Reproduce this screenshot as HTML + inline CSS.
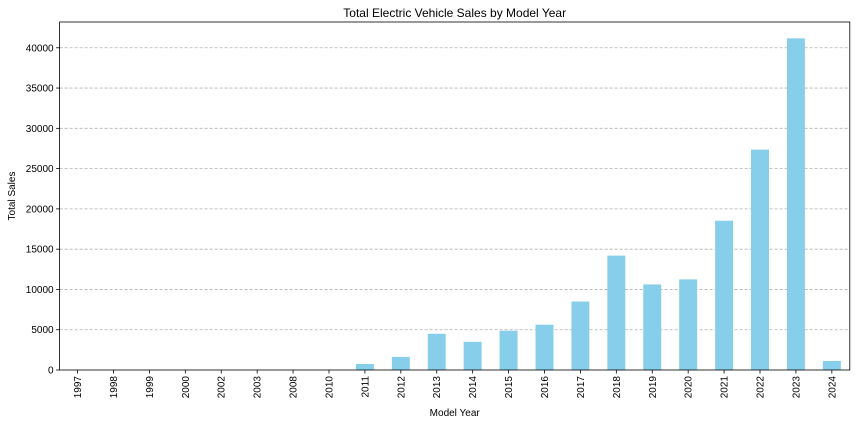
<!DOCTYPE html>
<html><head><meta charset="utf-8"><style>
body{margin:0;background:#fff;font-family:"Liberation Sans",sans-serif;}
</style></head><body>
<svg id="chart" width="856" height="424" xmlns="http://www.w3.org/2000/svg" font-family="Liberation Sans, sans-serif"></svg>
<script>
const categories=["1997","1998","1999","2000","2002","2003","2008","2010","2011","2012","2013","2014","2015","2016","2017","2018","2019","2020","2021","2022","2023","2024"];
const salesValues=[1,1,2,5,2,1,10,3,750,1625,4500,3500,4875,5625,8500,14200,10625,11250,18530,27360,41170,1125];
const yTicks=[0,5000,10000,15000,20000,25000,30000,35000,40000];
const NS="http://www.w3.org/2000/svg";
const svg=document.getElementById('chart');
const L=59.6,R=849.8,T=22,B=370,yMax=43200;
const band=(R-L)/categories.length;
const xc=i=>L+band*(i+0.5);
const y=v=>B-(v/yMax)*(B-T);
function mk(tag,attrs,parent){const e=document.createElementNS(NS,tag);for(const k in attrs)e.setAttribute(k,attrs[k]);(parent||svg).appendChild(e);return e;}
// grid + y ticks
yTicks.forEach(t=>{
  const g=mk('g',{});
  
  
  if(t>0) mk('line',{x1:L,x2:R,y1:y(t),y2:y(t),stroke:'#b0b0b0','stroke-width':0.8,'stroke-dasharray':'3,2'},g);
  mk('line',{x1:L-3.5,x2:L,y1:y(t),y2:y(t),stroke:'#000','stroke-width':0.8},g);
  const tx=mk('text',{x:L-6,y:y(t)+3.5,'text-anchor':'end','font-size':10,fill:'#000'},g);tx.textContent=t;
});
// bars
categories.forEach((c,i)=>{
  const r=mk('rect',{x:xc(i)-band*0.25,width:band*0.5,y:y(salesValues[i]),height:B-y(salesValues[i]),fill:'#87ceeb'});
  
  
  const g=mk('g',{});
  
  
  mk('line',{x1:xc(i),x2:xc(i),y1:B,y2:B+3.5,stroke:'#000','stroke-width':0.8},g);
  const tx=mk('text',{transform:`translate(${xc(i)+3.5},${B+6}) rotate(-90)`,'text-anchor':'end','font-size':10,fill:'#000'},g);tx.textContent=c;
});
const frame=mk('rect',{x:L,y:T,width:R-L,height:B-T,fill:'none',stroke:'#000','stroke-width':0.8});


const title=mk('text',{x:(L+R)/2,y:17,'text-anchor':'middle','font-size':12});title.textContent='Total Electric Vehicle Sales by Model Year';


const xt=mk('text',{x:(L+R)/2,y:416,'text-anchor':'middle','font-size':10});xt.textContent='Model Year';


const yt=mk('text',{transform:'translate(15,196) rotate(-90)','text-anchor':'middle','font-size':10});yt.textContent='Total Sales';


</script>
</body></html>
